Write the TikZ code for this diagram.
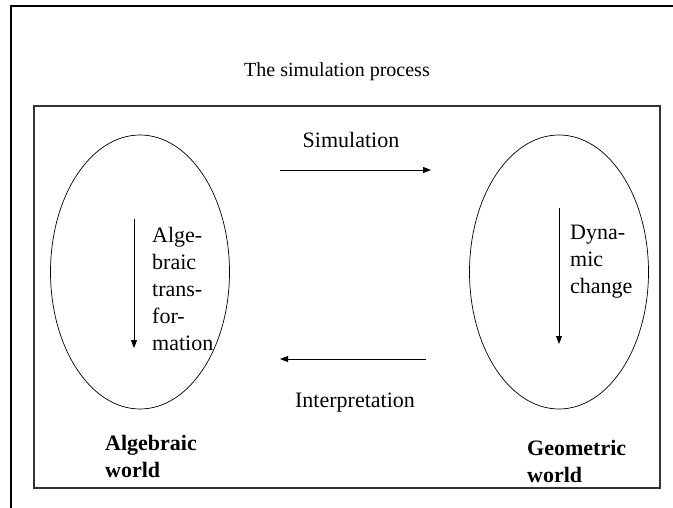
\documentclass[tikz,border=0pt]{standalone}
\usepackage{fontspec}
\setmainfont{Liberation Serif}
\usepackage{tikz}
\usetikzlibrary{arrows.meta,shapes.geometric}

\begin{document}
\begin{tikzpicture}[
    x=1pt, y=-1pt,
    every node/.style={inner sep=0pt, font=\fontsize{22}{27}\selectfont},
    world/.style={draw, ellipse, line width=0.7pt,
        minimum width=179pt, minimum height=274pt},
    label/.style={align=left, anchor=west},
    wname/.style={align=left, anchor=west, font=\fontsize{22}{27}\selectfont\bfseries},
    edge/.style={-{Triangle[length=8pt,width=6pt]}, line width=0.9pt}
]
\useasboundingbox (0,0) rectangle (673,508);
\draw[line width=2.2pt] (673,6) -- (11,6) -- (11,508);
\draw[line width=1.1pt, black!80] (34,106) rectangle (660,488);

\node[font=\fontsize{20}{24}\selectfont] (title) at (337,72) {The simulation process};

\node[world] (alg) at (140,272) {};
\node[world] (geo) at (559,272) {};

\coordinate (simA) at (280,170);
\coordinate (simB) at (431,170);
\coordinate (intA) at (426,359);
\coordinate (intB) at (280,359);
\coordinate (algA) at (134,219);
\coordinate (algB) at (134,348);
\coordinate (geoA) at (559,208);
\coordinate (geoB) at (559,344);

\node (sim) at (351,140) {Simulation};
\node (int) at (355,403) {Interpretation};
\node[label] (algt) at (152,289) {Alge-\\braic\\trans-\\for-\\mation};
\node[label] (geot) at (570,262) {Dyna-\\mic\\change};
\node[wname] (algw) at (105,456) {Algebraic\\world};
\node[wname] (geow) at (527,461) {Geometric\\world};

\draw[edge] (simA) -- (simB);
\draw[edge] (intA) -- (intB);
\draw[edge] (algA) -- (algB);
\draw[edge] (geoA) -- (geoB);
\end{tikzpicture}
\end{document}
